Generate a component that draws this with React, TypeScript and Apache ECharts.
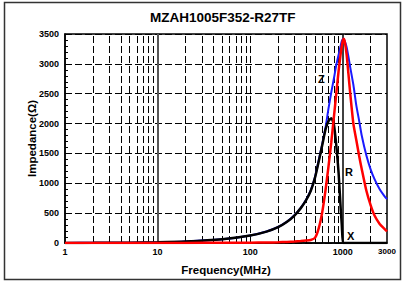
import React, { useEffect, useRef } from 'react';
import * as echarts from 'echarts';

const chartTitle = 'MZAH1005F352-R27TF';
const xAxisName = 'Frequency(MHz)';
const yAxisName = 'Impedance(Ω)';

const freqMHz = [
  1, 2, 5, 10, 20, 50, 100,
  150, 200, 250, 300, 350, 400, 450, 500,
  550, 600, 650, 700, 750, 800, 850, 900, 950,
  975, 1000, 1020, 1050, 1100, 1150, 1200,
  1300, 1400, 1500, 1600, 1800, 2000,
  2200, 2500, 2800, 3000,
];

const zOhm = [
  2, 3, 6, 12, 25, 62, 126,
  192, 268, 358, 465, 585, 720, 880, 1100,
  1390, 1660, 1930, 2250, 2520, 2750, 2980, 3150, 3310,
  3380, 3415, 3420, 3380, 3280, 3120, 2950,
  2650, 2300, 2050, 1800, 1460, 1230,
  1070, 900, 790, 735,
];

const rOhm = [
  0, 0, 1, 1, 2, 3, 5,
  8, 12, 18, 25, 32, 40, 50, 85,
  250, 520, 880, 1280, 1680, 2100, 2500, 2880, 3180,
  3300, 3390, 3420, 3370, 3150, 2830, 2520,
  2000, 1720, 1460, 1240, 870, 630,
  460, 320, 240, 195,
];

const xOhm = [
  1, 2.5, 6, 12, 24, 61, 124,
  190, 265, 355, 460, 580, 712, 870, 1090,
  1370, 1640, 1900, 2040, 2090, 1990, 1640, 1180, 560,
  300, 0, 0, 0, 0, 0, 0,
  0, 0, 0, 0, 0, 0,
  0, 0, 0, 0,
];

const dashedGridFreqs = [
  2, 3, 4, 5, 6, 7, 8, 9,
  20, 30, 40, 50, 60, 70, 80, 90, 100,
  200, 300, 400, 500, 600, 700, 800, 900,
  2000,
];
const solidGridFreqs = [10, 1000];

const curveLabels = [
  { text: 'Z', x: 318, y: 73 },
  { text: 'R', x: 345, y: 166 },
  { text: 'X', x: 347, y: 230 },
];

const FONT = '"Liberation Sans", Arial, sans-serif';

export default function App() {
  const ref = useRef<HTMLDivElement>(null);

  useEffect(() => {
    if (!ref.current) return;
    const chart = echarts.init(ref.current, null, { renderer: 'svg' });
    const pairs = (vals: number[]) => freqMHz.map((f, i) => [f, vals[i]]);

    chart.setOption({
      animation: false,
      backgroundColor: '#ffffff',
      title: {
        text: chartTitle,
        left: 150,
        top: 10,
        padding: 0,
        textStyle: { fontFamily: FONT, fontWeight: 'bold', fontSize: 13.5, color: '#000' },
      },
      grid: {
        left: 65,
        top: 34,
        right: 16,
        bottom: 39,
        show: true,
        borderColor: '#000',
        borderWidth: 1.5,
        backgroundColor: 'transparent',
      },
      xAxis: {
        type: 'log',
        logBase: 10,
        min: 1,
        max: 3000,
        name: xAxisName,
        nameLocation: 'middle',
        nameGap: 21,
        nameTextStyle: { fontFamily: FONT, fontWeight: 'bold', fontSize: 11.5, color: '#000', verticalAlign: 'top' },
        axisLine: { show: true, lineStyle: { color: '#000', width: 1.5 } },
        axisTick: { show: false },
        splitLine: { show: false },
        axisLabel: {
          fontFamily: FONT,
          fontWeight: 'bold',
          fontSize: 9,
          color: '#000',
          margin: 4,
          showMaxLabel: true,
          formatter: (v: number) => (Math.round(v) === 3000 ? '{s|3000}' : String(Math.round(v))),
          rich: { s: { fontFamily: FONT, fontWeight: 'bold', fontSize: 8, color: '#000', padding: [0, 0, 3, 0] } },
        },
      },
      yAxis: {
        type: 'value',
        min: 0,
        max: 3500,
        interval: 500,
        name: yAxisName,
        nameLocation: 'middle',
        nameGap: 27,
        nameMoveOverlap: false,
        nameRotate: 90,
        nameTextStyle: { fontFamily: FONT, fontWeight: 'bold', fontSize: 11.5, color: '#000' },
        axisLine: { show: true, lineStyle: { color: '#000', width: 1.5 } },
        axisTick: { show: true, inside: true, length: 4, lineStyle: { color: '#000' } },
        minorTick: { show: true, splitNumber: 5, length: 3, lineStyle: { color: '#000' } },
        splitLine: { show: true, lineStyle: { color: '#000', width: 1, type: [7, 3] } },
        axisLabel: {
          fontFamily: FONT,
          fontWeight: 'bold',
          fontSize: 9,
          color: '#000',
          margin: 6,
          formatter: (v: number) => String(v),
        },
      },
      graphic: [
        {
          type: 'rect',
          shape: { x: 4.5, y: 2.5, width: 396, height: 277 },
          style: { fill: 'none', stroke: '#333', lineWidth: 1.5 },
          silent: true,
          z: -10,
        },
        ...curveLabels.map((l) => ({
          type: 'text',
          x: l.x,
          y: l.y,
          silent: true,
          z: 100,
          style: { text: l.text, fontFamily: FONT, fontWeight: 'bold', fontSize: 11, fill: '#000' },
        })),
      ],
      series: [
        {
          type: 'line',
          data: [],
          z: 1,
          silent: true,
          markLine: {
            z: 1,
            silent: true,
            symbol: 'none',
            label: { show: false },
            animation: false,
            data: [
              ...dashedGridFreqs.map((f) => ({
                xAxis: f,
                lineStyle: { color: '#000', width: 1, type: [7, 3] },
              })),
              ...solidGridFreqs.map((f) => ({
                xAxis: f,
                lineStyle: { color: f === 10 ? '#555' : '#000', width: f === 10 ? 2 : 1.5, type: 'solid' },
              })),
            ],
          },
        },
        {
          name: 'Z',
          type: 'line',
          data: pairs(zOhm),
          showSymbol: false,
          smooth: 0.2,
          z: 3,
          lineStyle: { color: '#1a1aff', width: 2 },
          itemStyle: { color: '#1a1aff' },
        },
        {
          name: 'X',
          type: 'line',
          data: pairs(xOhm),
          showSymbol: false,
          smooth: 0.2,
          z: 4,
          lineStyle: { color: '#000', width: 2.5 },
          itemStyle: { color: '#000' },
        },
        {
          name: 'R',
          type: 'line',
          data: pairs(rOhm),
          showSymbol: false,
          smooth: 0.2,
          z: 5,
          lineStyle: { color: '#ff0000', width: 2.5 },
          itemStyle: { color: '#ff0000' },
        },
      ],
    });

    return () => chart.dispose();
  }, []);

  return (
    <div
      ref={ref}
      style={{ position: 'fixed', left: 0, top: 0, width: 403, height: 282, background: '#fff' }}
    />
  );
}
